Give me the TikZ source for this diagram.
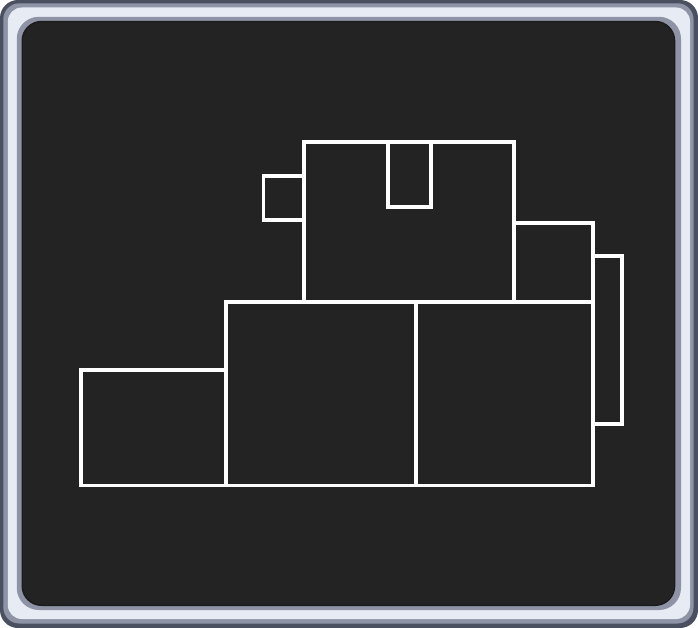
\documentclass[tikz,border=0pt]{standalone}
\usepackage{tikz}
\definecolor{frameDark}{HTML}{4B5060}
\definecolor{frameGray}{HTML}{8E93A6}
\definecolor{frameLight}{HTML}{E7EBF4}
\definecolor{panel}{HTML}{232323}
\definecolor{panelEdge}{HTML}{1C1C1C}
\tikzset{
  room/.style={draw=white, line width=3.8pt, line join=miter}
}
\begin{document}
\begin{tikzpicture}[x=1pt,y=-1pt]
\useasboundingbox (0,0) rectangle (698,628);
% frame
\fill[frameDark, rounded corners=18pt] (0,0) rectangle (698,628);
\fill[frameGray, rounded corners=16pt] (3.3,3.3) rectangle (693.5,623.5);
\fill[frameLight, rounded corners=14pt] (7.8,7.5) rectangle (690,619);
\fill[frameGray, rounded corners=22pt] (16.8,16.8) rectangle (681,610);
\fill[panelEdge, rounded corners=20pt] (21.5,20.8) rectangle (675.3,606);
\fill[panel, rounded corners=19pt] (23,22.3) rectangle (674,604.5);
% rooms
\draw[room] (304,142) rectangle (514,302);
\draw[room] (263.5,176) rectangle (304,220);
\draw[room] (388,142) rectangle (431,207);
\draw[room] (514,223) rectangle (593,302);
\draw[room] (593,256) rectangle (622,424);
\draw[room] (226,302) rectangle (416,485.5);
\draw[room] (416,302) rectangle (593,485.5);
\draw[room] (81,370) rectangle (226,485.5);
\end{tikzpicture}
\end{document}
